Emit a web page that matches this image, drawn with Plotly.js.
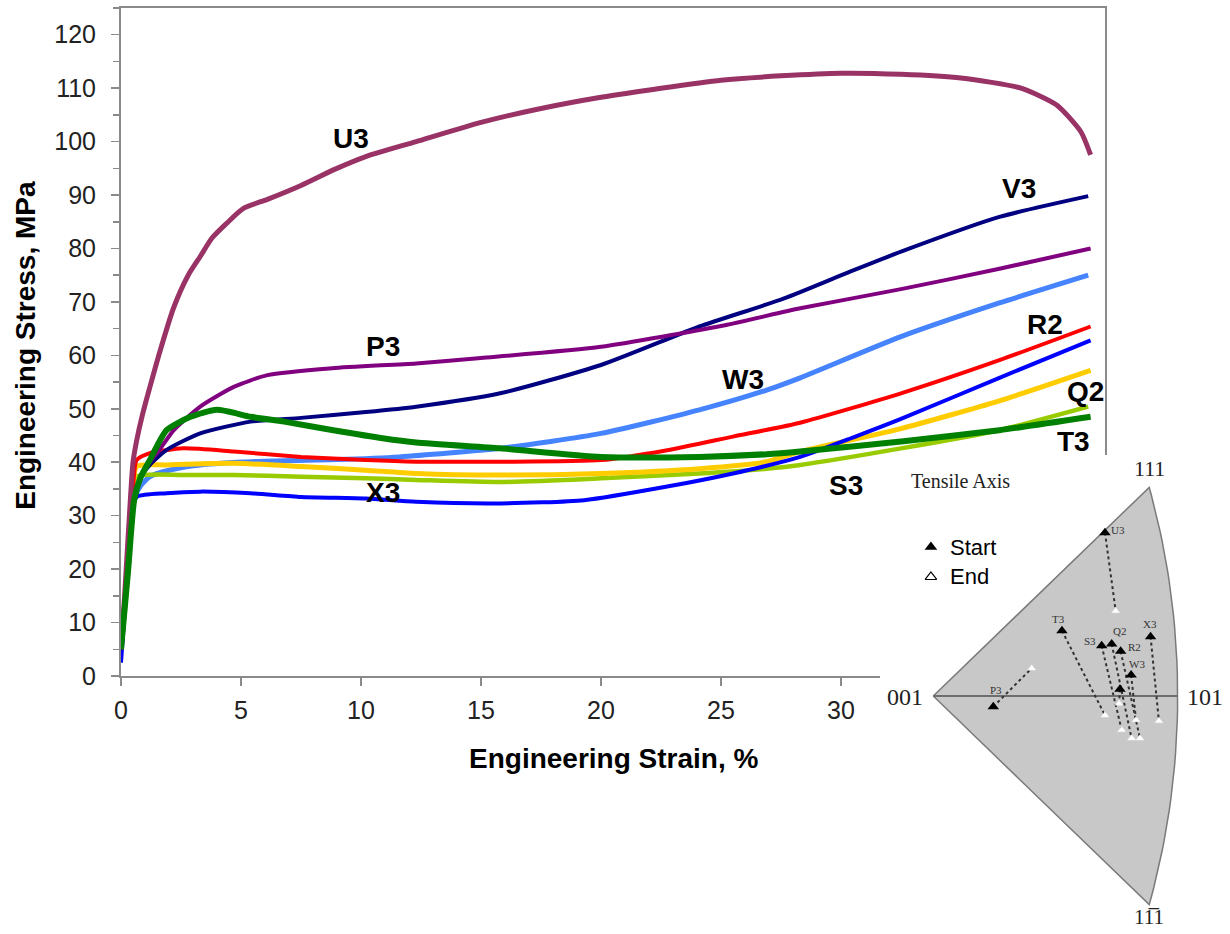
<!DOCTYPE html>
<html>
<head>
<meta charset="utf-8">
<script src="https://cdn.plot.ly/plotly-3.0.1.min.js"></script>
<style>
html,body{margin:0;padding:0;background:#fff;}
#chart{width:1230px;height:934px;}
</style>
</head>
<body>
<div id="chart"></div>
<script>
// ---------- Stress-strain data (strain %, stress MPa) ----------
const u3_x = [0, 0.15, 0.35, 0.5, 0.65, 0.9, 1.2, 1.6, 2.2, 2.8, 3.3, 3.8, 4.4, 5.1, 6.1, 7.5, 8.9, 10.2, 12.3, 15, 17.5, 20, 22.5, 25, 27.5, 30, 32.5, 35, 37.5, 39, 40, 40.4];
const u3_y = [5, 15, 30, 40, 44, 49, 54, 60.4, 69, 75, 78.5, 82, 84.7, 87.5, 89.2, 91.8, 94.8, 97.2, 100, 103.6, 106.2, 108.3, 110, 111.5, 112.3, 112.8, 112.6, 111.9, 110, 106.8, 101.8, 97.5];

const p3_x = [0, 0.3, 0.55, 0.8, 1.2, 1.6, 2.2, 3.3, 4.7, 6.1, 8.8, 12.3, 15, 20, 25, 28.3, 32.5, 36.6, 40.4];
const p3_y = [5, 20, 33, 37, 40, 42.3, 46, 50.4, 54.1, 56.3, 57.6, 58.5, 59.5, 61.6, 65.5, 68.8, 72.4, 76.2, 80];

const v3_x = [0, 0.3, 0.55, 0.8, 1.2, 1.9, 3.3, 5.4, 7.5, 10.2, 12.3, 15.8, 20, 24.1, 27.6, 30.4, 32.5, 36.6, 40.3];
const v3_y = [5, 20, 33, 37, 39.5, 42.3, 45.4, 47.6, 48.3, 49.4, 50.4, 52.9, 58.2, 65.4, 70.6, 75.7, 79.4, 85.9, 89.8];

const w3_x = [0, 0.3, 0.55, 0.8, 1.2, 2, 3.3, 6, 9, 11.6, 15.8, 20, 24.1, 26.9, 28.3, 32.5, 36.6, 40.3];
const w3_y = [5, 20, 33, 35.5, 37.3, 38.5, 39.5, 40.2, 40.5, 41, 42.6, 45.4, 49.8, 53.5, 55.8, 63.5, 69.8, 75];

const r2_x = [0, 0.3, 0.5, 0.65, 1.2, 2.6, 4.7, 7.5, 10.2, 12.3, 15.8, 20, 22.7, 25.5, 28.3, 32.5, 36.6, 40.4];
const r2_y = [5, 20, 35, 40.4, 41.7, 42.6, 42, 41, 40.4, 40.1, 40.1, 40.4, 42.2, 44.8, 47.4, 52.9, 59.1, 65.4];

const x3_x = [0, 0.2, 0.45, 0.65, 1.9, 3.3, 5.4, 7.5, 10.2, 12.3, 15.8, 19.3, 22.7, 25.5, 28.3, 30.6, 32.5, 36.6, 40.4];
const x3_y = [2.5, 15, 30, 33.5, 34.2, 34.5, 34.2, 33.5, 33.2, 32.6, 32.3, 32.9, 35.4, 37.9, 41, 44.8, 48.1, 55.8, 62.8];

const q2_x = [0, 0.3, 0.5, 0.65, 1.9, 4.7, 7.5, 10.2, 12.3, 15.8, 20, 24.1, 26.9, 28.3, 32.5, 36.6, 40.4];
const q2_y = [5, 20, 34, 39.2, 39.5, 39.8, 39.2, 38.5, 37.9, 37.6, 37.9, 38.8, 40.1, 42, 46.3, 51.5, 57.2];

const s3_x = [0, 0.3, 0.5, 0.65, 2.6, 4.7, 7.5, 10.2, 12.3, 15.8, 20, 24.1, 26.9, 28.3, 32.5, 36.6, 40.3];
const s3_y = [5, 20, 33, 37.3, 37.6, 37.6, 37.3, 37, 36.7, 36.3, 37, 37.9, 38.8, 39.5, 42.6, 46, 50.4];

const t3_x = [0, 0.3, 0.55, 0.8, 1.2, 1.9, 2.9, 4.0, 5.4, 6.8, 8.85, 10.9, 12.3, 15.8, 20, 24.1, 26.9, 28.3, 32.5, 36.6, 40.4];
const t3_y = [5, 20, 33, 37, 40.4, 46, 48.5, 49.8, 48.5, 47.6, 46, 44.5, 43.7, 42.6, 41, 41, 41.5, 42, 43.9, 46, 48.5];

// curve label names and positions (strain, stress)
const curveNames = ["U3", "P3", "V3", "W3", "R2", "Q2", "T3", "S3", "X3"];
const labelX = [9.6, 10.9, 37.4, 25.9, 38.5, 40.2, 39.7, 30.2, 10.9];
const labelY = [100.5, 61.7, 91.2, 55.4, 65.8, 53.2, 43.8, 35.7, 34.4];

// axis ticks
const xTicks = [0, 5, 10, 15, 20, 25, 30, 35, 40];
const yTicks = [0, 10, 20, 30, 40, 50, 60, 70, 80, 90, 100, 110, 120];

// ---------- Inverse pole figure (stereographic coords) ----------
const ipfNames  = ["P3", "T3", "U3", "S3", "Q2", "R2", "W3", "V3", "X3"];
const startX = [0.1017, 0.2181, 0.2910, 0.2854, 0.3024, 0.3176, 0.3353, 0.3164, 0.3683];
const startY = [-0.0188, 0.1146, 0.2865, 0.0882, 0.0912, 0.0784, 0.0368, 0.0117, 0.1040];
const endX   = [0.1667, 0.2910, 0.3092, 0.3193, 0.3361, 0.3503, 0.3437, 0.3150, 0.3824];
const endY   = [0.0486, -0.0339, 0.1491, -0.0596, -0.0742, -0.0742, -0.0421, -0.0130, -0.0439];
const ipfLabelShow = [true, true, true, true, true, true, true, false, true];
const ipfLabelDX = [0.004, -0.006, 0.022, -0.020, 0.013, 0.024, 0.010, 0, -0.001];
const ipfLabelDY = [0.030, 0.021, 0.005, 0.009, 0.022, 0.007, 0.019, 0, 0.023];

// ---------- Build main traces ----------
const curves = {
  U3: {x: u3_x, y: u3_y, c: "#993366", w: 5},
  P3: {x: p3_x, y: p3_y, c: "#800080", w: 4},
  V3: {x: v3_x, y: v3_y, c: "#000080", w: 4},
  W3: {x: w3_x, y: w3_y, c: "#4683FF", w: 5},
  R2: {x: r2_x, y: r2_y, c: "#FF0000", w: 4},
  X3: {x: x3_x, y: x3_y, c: "#0000FF", w: 4},
  Q2: {x: q2_x, y: q2_y, c: "#FFCC00", w: 5},
  S3: {x: s3_x, y: s3_y, c: "#99CC00", w: 4.5},
  T3: {x: t3_x, y: t3_y, c: "#008000", w: 6}
};
const drawOrder = ["W3", "S3", "Q2", "X3", "R2", "V3", "P3", "U3", "T3"];
const traces = drawOrder.map(k => ({
  type: "scatter", mode: "lines", name: k,
  x: curves[k].x, y: curves[k].y, xaxis: "x", yaxis: "y",
  line: {color: curves[k].c, width: curves[k].w, shape: "spline", smoothing: 0.6},
  hoverinfo: "name+x+y"
}));

// ---------- Inset geometry ----------
const x2r = [-0.0903, 0.5029];
const y2r = [-0.4175, 0.4228];
// white backing for inset region
traces.push({
  type: "scatter", mode: "lines", xaxis: "x2", yaxis: "y2",
  x: [x2r[0], x2r[1], x2r[1], x2r[0], x2r[0]],
  y: [y2r[0], y2r[0], y2r[1], y2r[1], y2r[0]],
  fill: "toself", fillcolor: "#ffffff", line: {width: 0, color: "#ffffff"}, hoverinfo: "skip"
});
// standard triangle: 001 -> 111 -> (great circle through 101) -> 1-11 -> 001
function proj(u, v, w) { const n = Math.sqrt(u*u + v*v + w*w); return [u/n/(1 + w/n), v/n/(1 + w/n)]; }
const triX = [], triY = [];
let p = proj(0, 0, 1); triX.push(p[0]); triY.push(p[1]);
for (let i = 0; i <= 40; i++) {
  const s = 1 - i * 0.05;
  p = proj(1, s, 1); triX.push(p[0]); triY.push(p[1]);
}
p = proj(0, 0, 1); triX.push(p[0]); triY.push(p[1]);
traces.push({
  type: "scatter", mode: "lines", xaxis: "x2", yaxis: "y2", x: triX, y: triY,
  fill: "toself", fillcolor: "#C8C8C8", line: {color: "#7a7a7a", width: 1.5}, hoverinfo: "skip"
});
const p101 = proj(1, 0, 1);
traces.push({
  type: "scatter", mode: "lines", xaxis: "x2", yaxis: "y2",
  x: [0, p101[0]], y: [0, 0], line: {color: "#6e6e6e", width: 2}, hoverinfo: "skip"
});
// dashed paths start -> end
const pathX = [], pathY = [];
for (let i = 0; i < ipfNames.length; i++) {
  pathX.push(startX[i], endX[i], null);
  pathY.push(startY[i], endY[i], null);
}
traces.push({
  type: "scatter", mode: "lines", xaxis: "x2", yaxis: "y2", x: pathX, y: pathY,
  line: {color: "#333333", width: 2, dash: "dot"}, hoverinfo: "skip"
});
traces.push({
  type: "scatter", mode: "markers", xaxis: "x2", yaxis: "y2", x: endX, y: endY, text: ipfNames,
  marker: {symbol: "triangle-up", size: 7, color: "#ffffff", line: {color: "#eeeeee", width: 0.5}},
  hoverinfo: "text"
});
traces.push({
  type: "scatter", mode: "markers", xaxis: "x2", yaxis: "y2", x: startX, y: startY, text: ipfNames,
  marker: {symbol: "triangle-up", size: 10, color: "#000000"},
  hoverinfo: "text"
});
// legend symbols
traces.push({
  type: "scatter", mode: "markers", xaxis: "x2", yaxis: "y2",
  x: [-0.004], y: [0.2614], marker: {symbol: "triangle-up", size: 11, color: "#000000"}, hoverinfo: "skip"
});
traces.push({
  type: "scatter", mode: "markers", xaxis: "x2", yaxis: "y2",
  x: [-0.004], y: [0.2088], marker: {symbol: "triangle-up-open", size: 10, color: "#000000", line: {width: 1.2}}, hoverinfo: "skip"
});

// ---------- Annotations ----------
const ann = [];
for (let i = 0; i < curveNames.length; i++) {
  ann.push({x: labelX[i], y: labelY[i], xref: "x", yref: "y", showarrow: false,
    font: {family: "Liberation Sans, Arial, sans-serif", size: 28, color: "#000"}, xanchor: "center", yanchor: "middle",
    text: "<b>" + curveNames[i] + "</b>"});
}
ann.push({x: 0.4984, y: 0.1884, xref: "paper", yref: "paper", showarrow: false,
  text: "<b>Engineering Strain, %</b>", font: {family: "Liberation Sans, Arial, sans-serif", size: 28, color: "#000"},
  xanchor: "center", yanchor: "middle"});
ann.push({x: 0.0205, y: 0.63, xref: "paper", yref: "paper", showarrow: false, textangle: -90,
  text: "<b>Engineering Stress, MPa</b>", font: {family: "Liberation Sans, Arial, sans-serif", size: 28, color: "#000"},
  xanchor: "center", yanchor: "middle"});
// inset texts
const serif = "Liberation Serif, Times New Roman, serif";
ann.push({x: 0.0455, y: 0.3775, xref: "x2", yref: "y2", text: "Tensile Axis", showarrow: false,
  font: {family: serif, size: 20, color: "#222"}, xanchor: "center", yanchor: "middle"});
ann.push({x: 0.366, y: 0.4, xref: "x2", yref: "y2", text: "111", showarrow: false,
  font: {family: serif, size: 22, color: "#222"}, xanchor: "center", yanchor: "middle"});
ann.push({x: -0.048, y: -0.002, xref: "x2", yref: "y2", text: "001", showarrow: false,
  font: {family: serif, size: 24, color: "#222"}, xanchor: "center", yanchor: "middle"});
ann.push({x: 0.4604, y: -0.002, xref: "x2", yref: "y2", text: "101", showarrow: false,
  font: {family: serif, size: 24, color: "#222"}, xanchor: "center", yanchor: "middle"});
ann.push({x: 0.366, y: -0.388, xref: "x2", yref: "y2", text: "1\u0031\u03051", showarrow: false,
  font: {family: serif, size: 21, color: "#222"}, xanchor: "center", yanchor: "middle"});
ann.push({x: 0.025, y: 0.2614, xref: "x2", yref: "y2", text: "Start", showarrow: false,
  font: {family: "Liberation Sans, Arial, sans-serif", size: 22, color: "#000"}, xanchor: "left", yanchor: "middle"});
ann.push({x: 0.025, y: 0.2088, xref: "x2", yref: "y2", text: "End", showarrow: false,
  font: {family: "Liberation Sans, Arial, sans-serif", size: 22, color: "#000"}, xanchor: "left", yanchor: "middle"});
for (let i = 0; i < ipfNames.length; i++) {
  if (!ipfLabelShow[i]) continue;
  ann.push({x: startX[i] + ipfLabelDX[i], y: startY[i] + ipfLabelDY[i], xref: "x2", yref: "y2",
    text: ipfNames[i], showarrow: false, font: {family: serif, size: 11, color: "#333"},
    xanchor: "center", yanchor: "middle"});
}

const axisFont = {family: "Liberation Sans, Arial, sans-serif", size: 25, color: "#222"};
const layout = {
  width: 1230, height: 934,
  margin: {l: 0, r: 0, t: 0, b: 0},
  paper_bgcolor: "#fff", plot_bgcolor: "#fff",
  showlegend: false,
  xaxis: {domain: [121/1230, 1105/1230], range: [0, 41], tickvals: xTicks, ticktext: xTicks.map(String),
    showgrid: false, zeroline: false, showline: true, linecolor: "#8a8a8a", linewidth: 2, mirror: true,
    ticks: "outside", ticklen: 8, tickwidth: 1.5, tickcolor: "#8a8a8a", tickfont: axisFont, ticklabelstandoff: 3},
  yaxis: {domain: [258/934, 926/934], range: [0, 125], tickvals: yTicks, ticktext: yTicks.map(String),
    showgrid: false, zeroline: false, showline: true, linecolor: "#8a8a8a", linewidth: 2, mirror: true,
    ticks: "outside", ticklen: 8, tickwidth: 1.5, tickcolor: "#8a8a8a", tickfont: axisFont, ticklabelstandoff: 10,
    minor: {dtick: 5, tick0: 0, ticks: "outside", ticklen: 6, tickwidth: 1.5, tickcolor: "#8a8a8a"}},
  xaxis2: {domain: [880/1230, 1], range: x2r, visible: false, fixedrange: true},
  yaxis2: {domain: [0, 479/934], range: y2r, visible: false, fixedrange: true},
  annotations: ann
};
Plotly.newPlot("chart", traces, layout, {displayModeBar: false, staticPlot: true});
</script>
</body>
</html>
